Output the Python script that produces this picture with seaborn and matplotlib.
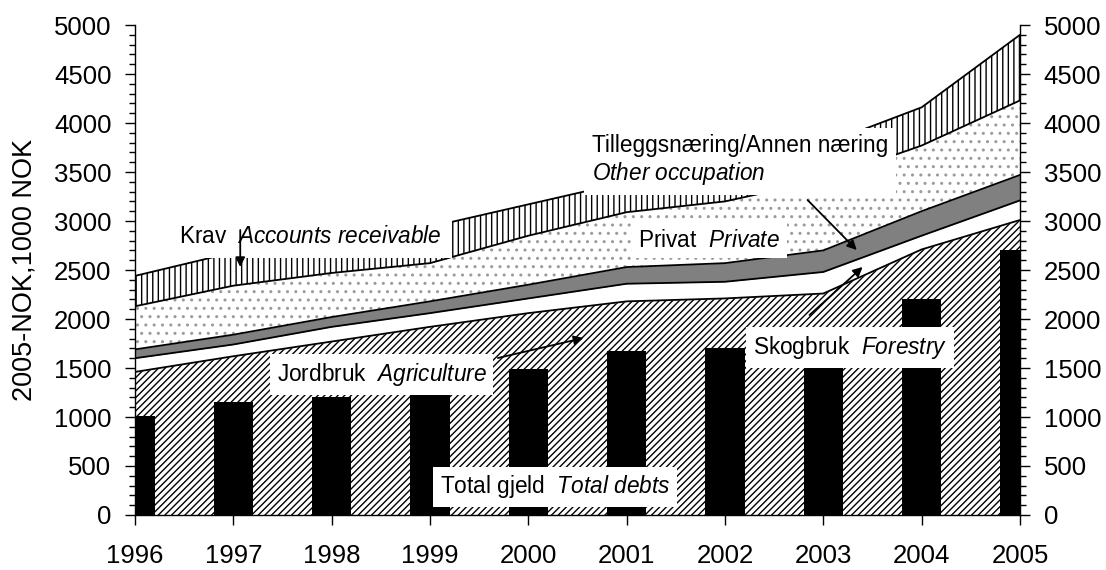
import numpy as np
import matplotlib
matplotlib.use('Agg')
import matplotlib.pyplot as plt
from matplotlib.ticker import MultipleLocator
import seaborn as sns

# values (1000 NOK, 2005 prices)
years = [1996, 1997, 1998, 1999, 2000, 2001, 2002, 2003, 2004, 2005]
total_debts = [1010, 1150, 1200, 1220, 1490, 1670, 1700, 1900, 2200, 2700]
agriculture = [1460, 1620, 1770, 1920, 2060, 2180, 2210, 2260, 2710, 3010]
forestry = [140, 120, 150, 140, 150, 180, 170, 220, 140, 200]
other_occupation = [90, 100, 100, 120, 140, 170, 190, 220, 250, 260]
private = [440, 500, 450, 390, 500, 560, 630, 720, 670, 760]
receivable = [310, 340, 330, 370, 320, 310, 350, 360, 390, 670]

sns.set_theme(style='ticks')
plt.rcParams['font.family'] = ['Liberation Sans', 'DejaVu Sans']
plt.rcParams['mathtext.fontset'] = 'custom'
plt.rcParams['mathtext.rm'] = 'Liberation Sans'
plt.rcParams['mathtext.it'] = 'Liberation Sans:italic'
plt.rcParams['text.color'] = 'black'
plt.rcParams['axes.labelcolor'] = 'black'
plt.rcParams['xtick.color'] = 'black'
plt.rcParams['ytick.color'] = 'black'
plt.rcParams['axes.edgecolor'] = 'black'
plt.rcParams['hatch.linewidth'] = 1.0

fig, ax = plt.subplots(figsize=(11.06, 5.70), dpi=100)
fig.subplots_adjust(left=0.1221, right=0.9222, bottom=0.0965, top=0.9561)

# stacked areas, bottom to top
layers = [
    (agriculture, 'white', '/////', 'black'),
    (forestry, 'white', None, 'black'),
    (other_occupation, '#808080', None, 'black'),
    (private, 'white', '..', '#9a9a9a'),
    (receivable, 'white', '|||', 'black'),
]
x = np.array(years)
base = np.zeros(len(years))
for vals, fc, hatch, hc in layers:
    top = base + np.array(vals)
    with plt.rc_context({'hatch.color': hc}):
        ax.fill_between(x, base, top, facecolor=fc, hatch=hatch,
                        edgecolor=hc, linewidth=0, zorder=1)
    ax.plot(x, top, color='black', lw=1.3, zorder=2)
    base = top

sns.barplot(x=years, y=total_debts, native_scale=True, color='black',
            saturation=1, width=0.4, errorbar=None, linewidth=0,
            ax=ax, zorder=3)

ax.set_xlim(1996, 2005)
ax.set_ylim(0, 5000)
ax.set_xticks(years)
ax.set_xticklabels([str(y) for y in years])
ax.set_yticks(range(0, 5001, 500))
ax.yaxis.set_minor_locator(MultipleLocator(100))
ax.set_xlabel('')
ax.set_ylabel('2005-NOK,1000 NOK', fontsize=19.5, labelpad=12)
ax.tick_params(axis='x', which='major', length=7, width=1, labelsize=18.5, pad=14)
ax.tick_params(axis='y', which='major', length=7, width=1, labelsize=18.5, pad=10)
ax.tick_params(axis='y', which='minor', length=4, width=1)
ax.tick_params(axis='x', which='minor', bottom=False)
for s in ['top', 'right']:
    ax.spines[s].set_visible(False)
for s in ['left', 'bottom']:
    ax.spines[s].set_linewidth(1.0)

ax2 = ax.twinx()
ax2.set_ylim(0, 5000)
ax2.set_yticks(range(0, 5001, 500))
ax2.yaxis.set_minor_locator(MultipleLocator(100))
ax2.tick_params(axis='y', which='major', length=7, width=1, labelsize=18.5, pad=10)
ax2.tick_params(axis='y', which='minor', length=4, width=1)
for s in ['top', 'left', 'bottom']:
    ax2.spines[s].set_visible(False)
ax2.spines['right'].set_linewidth(1.0)

box = dict(boxstyle='square,pad=0.3', fc='white', ec='none')
arrow = dict(arrowstyle='-|>', color='black', lw=1.3, mutation_scale=14,
             shrinkA=0, shrinkB=0)
fs = 16.3

ax.text(1996.45, 2776, r'Krav  $\mathit{Accounts\ receivable}$', fontsize=fs,
        va='baseline', ha='left', zorder=6,
        bbox=dict(boxstyle='square,pad=0.45', fc='white', ec='none'))
ax.annotate('', xy=(1997.07, 2531), xytext=(1997.07, 2908),
            arrowprops=arrow, zorder=7)

ax.text(2001.12, 2738, r'Privat  $\mathit{Private}$', fontsize=fs,
        va='baseline', ha='left', bbox=box, zorder=6)

ax.text(2000.65, 3418, 'Tilleggsnæring/Annen næring\n' + r'$\mathit{Other\ occupation}$',
        fontsize=fs, va='baseline', ha='left', linespacing=1.15,
        bbox=dict(boxstyle='square,pad=0.35', fc='white', ec='none'), zorder=6)
ax.annotate('', xy=(2003.34, 2704), xytext=(2002.84, 3214),
            arrowprops=arrow, zorder=7)

ax.text(1997.44, 1367, r'Jordbruk  $\mathit{Agriculture}$', fontsize=fs,
        va='baseline', ha='left', bbox=box, zorder=6)
ax.annotate('', xy=(2000.56, 1806), xytext=(1999.69, 1602),
            arrowprops=arrow, zorder=7)

ax.text(2002.28, 1643, r'Skogbruk  $\mathit{Forestry}$', fontsize=fs,
        va='baseline', ha='left', bbox=box, zorder=6)
ax.annotate('', xy=(2003.40, 2531), xytext=(2002.86, 2041),
            arrowprops=arrow, zorder=7)

ax.text(1999.10, 221, r'Total gjeld  $\mathit{Total\ debts}$', fontsize=fs,
        va='baseline', ha='left', bbox=box, zorder=6)

fig.savefig('out.png', dpi=100)
